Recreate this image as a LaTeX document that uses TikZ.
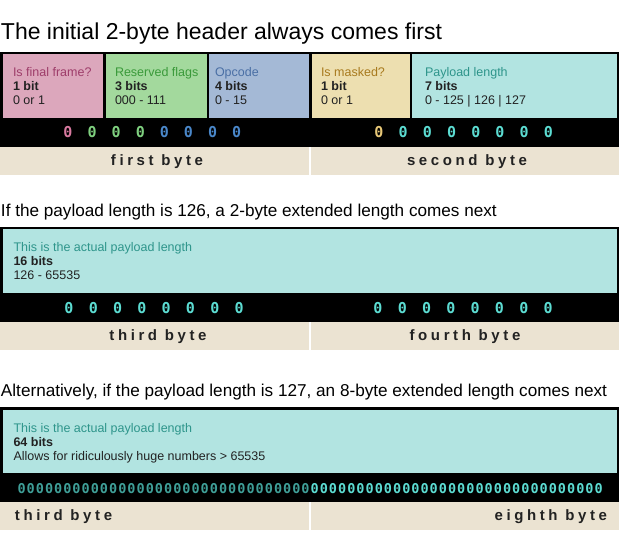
\documentclass[tikz,border=0pt]{standalone}
\usepackage{fontspec}
\setmainfont{Liberation Sans}
\newfontfamily\digitfont{DejaVu Sans Mono Bold}
\newfontfamily\spacedfont{Liberation Sans Bold}[LetterSpace=24]
\definecolor{pinkF}{HTML}{DCA7BC}
\definecolor{pinkT}{HTML}{9E3D6A}
\definecolor{pinkD}{HTML}{D97AA0}
\definecolor{greenF}{HTML}{A3D99D}
\definecolor{greenT}{HTML}{3A9A3A}
\definecolor{greenD}{HTML}{7FD07F}
\definecolor{blueF}{HTML}{A4B9D6}
\definecolor{blueT}{HTML}{4A6FA5}
\definecolor{blueD}{HTML}{4A87C9}
\definecolor{yellowF}{HTML}{EDDFB0}
\definecolor{yellowT}{HTML}{A87A1E}
\definecolor{yellowD}{HTML}{E8C878}
\definecolor{cyanF}{HTML}{B2E4E1}
\definecolor{cyanT}{HTML}{2E958B}
\definecolor{cyanD}{HTML}{5CDCD2}
\definecolor{cyanDark}{HTML}{3F9F98}
\definecolor{beige}{HTML}{EBE3D2}
\definecolor{ink}{HTML}{222222}
\begin{document}
\begin{tikzpicture}[x=1pt,y=-1pt,
  every node/.style={inner sep=0pt, outer sep=0pt},
  bigtitle/.style={anchor=base west, font=\fontsize{23}{23}\selectfont, text=black},
  subtitle/.style={anchor=base west, font=\fontsize{17.15}{17.15}\selectfont, text=black},
  fhead/.style={anchor=base west, font=\fontsize{12.5}{14}\selectfont},
  fbits/.style={anchor=base west, font=\fontsize{12.5}{14}\selectfont\bfseries, text=ink},
  frange/.style={anchor=base west, font=\fontsize{12.5}{14}\selectfont, text=ink},
  digit/.style={anchor=base, font=\fontsize{15}{15}\digitfont},
  smalldigit/.style={anchor=base, font=\fontsize{13.5}{13.5}\digitfont},
  bytelabel/.style={anchor=base, font=\fontsize{15}{15}\spacedfont, text=ink}
]
\useasboundingbox[fill=white] (0,0) rectangle (619,556);

% ---------- Section 1 ----------
\node[bigtitle] (t1) at (1,39.5) {The initial 2-byte header always comes first};
\fill[black] (0,52) rectangle (619,147);
\fill[pinkF]   (2.5,54.5) rectangle (103,118);
\fill[greenF]  (105.5,54.5) rectangle (206.5,118);
\fill[blueF]   (209,54.5) rectangle (309,118);
\fill[yellowF] (311.5,54.5) rectangle (409.5,118);
\fill[cyanF]   (412,54.5) rectangle (616.5,118);

\foreach \n/\x/\c/\a/\b/\d in {
  fin/13/pinkT/Is final frame?/1 bit/0 or 1,
  rsv/115/greenT/Reserved flags/3 bits/000 - 111,
  opc/215/blueT/Opcode/4 bits/0 - 15,
  msk/321/yellowT/Is masked?/1 bit/0 or 1,
  len/425/cyanT/Payload length/7 bits/0 - 125 | 126 | 127}{
  \node[fhead, text=\c] (\n-h) at (\x,77) {\a};
  \node[fbits] (\n-b) at (\x,91) {\b};
  \node[frange] (\n-r) at (\x,105) {\d};
}

\node[digit, text=pinkD] (a0) at (68,138) {0};
\foreach \i in {1,2,3} \node[digit, text=greenD] (a\i) at ({68+24.1*\i},138) {0};
\foreach \i in {4,...,7} \node[digit, text=blueD] (a\i) at ({68+24.1*\i},138) {0};
\node[digit, text=yellowD] (b0) at (379,138) {0};
\foreach \i in {1,...,7} \node[digit, text=cyanD] (b\i) at ({379+24.2*\i},138) {0};

\fill[beige] (0,147) rectangle (309,175);
\fill[beige] (311,147) rectangle (619,175);
\node[bytelabel] (l1) at (157,166) {first byte};
\node[bytelabel] (l2) at (467,166) {second byte};

% ---------- Section 2 ----------
\node[subtitle] (t2) at (1,217) {If the payload length is 126, a 2-byte extended length comes next};
\fill[black] (0,227) rectangle (619,322);
\fill[cyanF] (2.5,229.5) rectangle (616.5,293);
\node[fhead, text=cyanT] (s2h) at (13.5,252) {This is the actual payload length};
\node[fbits] (s2b) at (13.5,266) {16 bits};
\node[frange] (s2r) at (13.5,280) {126 - 65535};
\foreach \i in {0,...,7} \node[digit, text=cyanD] (c\i) at ({69+24.3*\i},313) {0};
\foreach \i in {0,...,7} \node[digit, text=cyanD] (e\i) at ({378+24.3*\i},313) {0};
\fill[beige] (0,322) rectangle (309,350);
\fill[beige] (311,322) rectangle (619,350);
\node[bytelabel] (l3) at (158,340.5) {third byte};
\node[bytelabel] (l4) at (465,340.5) {fourth byte};

% ---------- Section 3 ----------
\node[subtitle] (t3) at (1,396.5) {Alternatively, if the payload length is 127, an 8-byte extended length comes next};
\fill[black] (0,407) rectangle (619,502);
\fill[cyanF] (2.5,409.5) rectangle (616.5,473);
\node[fhead, text=cyanT] (s3h) at (13.5,432) {This is the actual payload length};
\node[fbits] (s3b) at (13.5,446) {64 bits};
\node[frange] (s3r) at (13.5,460) {Allows for ridiculously huge numbers > 65535};
\foreach \i in {0,...,31} \node[smalldigit, text=cyanDark] (g\i) at ({21.6+9.16*\i},493) {0};
\foreach \i in {32,...,63} \node[smalldigit, text=cyanD] (g\i) at ({21.6+9.16*\i},493) {0};
\fill[beige] (0,502) rectangle (309,530);
\fill[beige] (311,502) rectangle (619,530);
\node[bytelabel, anchor=base west] (l5) at (15,520.5) {third byte};
\node[bytelabel, anchor=base east] (l6) at (607,520.5) {eighth byte};
\end{tikzpicture}
\end{document}
